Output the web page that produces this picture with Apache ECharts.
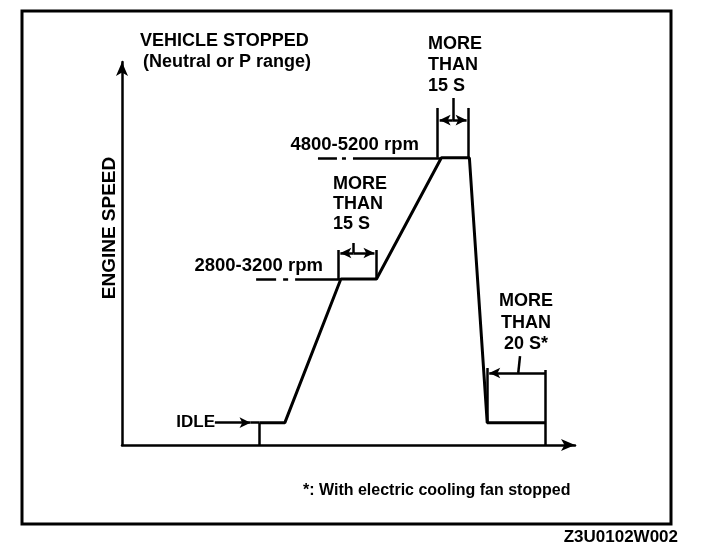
<!DOCTYPE html>
<html>
<head>
<meta charset="utf-8">
<script src="https://cdn.jsdelivr.net/npm/echarts@6/dist/echarts.min.js"></script>
<style>
  html, body { margin: 0; padding: 0; background: #fff; }
  #main { width: 704px; height: 552px; }
</style>
</head>
<body>
<div id="main"></div>
<script>
// schematic engine speed trace: time (s) vs engine speed (rpm)
const timeSec = [54, 64, 86, 100, 125.5, 136.5, 143.5, 166.5];
const speedRpm = [750, 750, 3000, 3000, 4900, 4900, 750, 750];
const idleRpm = 750;
const midRpm = 3000;
const highRpm = 4900;
const baseRpm = 400;

const FONT = '"Liberation Sans", Arial, sans-serif';
const black = '#000';

const chart = echarts.init(document.getElementById('main'));

const seg = (a, b, sa, sb) => [
  { coord: a, symbol: sa || 'none' },
  { coord: b, symbol: sb || 'none' }
];

const tracePts = timeSec.map((t, i) => [t, speedRpm[i]]);

chart.setOption({
  animation: false,
  backgroundColor: '#fff',
  grid: { left: 122, top: 62, width: 453, height: 383 },
  xAxis: {
    type: 'value', min: 0, max: 178,
    axisLine: { show: true, onZero: false, symbol: ['none', 'arrow'], symbolSize: [9, 14],
      lineStyle: { color: black, width: 2.5 } },
    axisTick: { show: false }, axisLabel: { show: false }, splitLine: { show: false }
  },
  yAxis: {
    type: 'value', min: baseRpm, max: 6400,
    axisLine: { show: true, onZero: false, symbol: ['none', 'arrow'], symbolSize: [9, 14],
      lineStyle: { color: black, width: 2.5 } },
    axisTick: { show: false }, axisLabel: { show: false }, splitLine: { show: false }
  },
  series: [
    {
      type: 'line',
      data: tracePts,
      showSymbol: false,
      silent: true,
      lineStyle: { color: black, width: 3 },
      markLine: {
        silent: true,
        animation: false,
        label: { show: false },
        symbolSize: [8, 11],
        lineStyle: { color: black, width: 2.5, type: 'solid' },
        data: [
          // idle arrow and tick
          seg([36.5, idleRpm], [50.5, idleRpm], 'none', 'arrow'),
          seg([50.5, idleRpm], [timeSec[0], idleRpm]),
          seg([timeSec[0], idleRpm], [timeSec[0], baseRpm]),
          // hold at 2800-3200 rpm
          seg([85, midRpm], [85, 3455]),
          seg([timeSec[3], midRpm], [timeSec[3], 3455]),
          seg([91, 3408], [85.8, 3408], 'none', 'arrow'),
          seg([91, 3408], [99.2, 3408], 'none', 'arrow'),
          seg([91, 3408], [91, 3565]),
          // hold at 4800-5200 rpm
          seg([124, highRpm], [124, 5680]),
          seg([timeSec[5] - 0.3, highRpm], [timeSec[5] - 0.3, 5680]),
          seg([130, 5490], [124.8, 5490], 'none', 'arrow'),
          seg([130, 5490], [135.4, 5490], 'none', 'arrow'),
          seg([130, 5490], [130, 5836]),
          // hold at idle (fan stopped)
          seg([timeSec[6], idleRpm], [timeSec[6], 1606]),
          seg([timeSec[7], baseRpm], [timeSec[7], 1575]),
          seg([156, 1528], [144.3, 1528], 'none', 'arrow'),
          seg([156, 1528], [timeSec[7], 1528]),
          seg([155.7, 1528], [156.4, 1794]),
          // dash-dot rpm reference lines
          [
            { coord: [52.7, midRpm], symbol: 'none', lineStyle: { type: [20, 7, 5, 7, 600], width: 2.5 } },
            { coord: [timeSec[2], midRpm], symbol: 'none' }
          ],
          [
            { coord: [77, highRpm], symbol: 'none', lineStyle: { type: [19, 5, 4, 7, 600], width: 2.5 } },
            { coord: [timeSec[4], highRpm], symbol: 'none' }
          ]
        ]
      }
    }
  ],
  graphic: [
    { type: 'rect', shape: { x: 22, y: 11, width: 649, height: 513 },
      style: { fill: 'none', stroke: black, lineWidth: 3 } },
    { type: 'text', x: 140, y: 41, style: { text: 'VEHICLE STOPPED', font: 'bold 18px ' + FONT, fill: black, verticalAlign: 'middle' } },
    { type: 'text', x: 143, y: 62, style: { text: '(Neutral or P range)', font: 'bold 18px ' + FONT, fill: black, verticalAlign: 'middle' } },
    { type: 'text', x: 428, y: 44, style: { text: 'MORE\nTHAN\n15 S', font: 'bold 18px ' + FONT, lineHeight: 20.7, fill: black, verticalAlign: 'top', y: -10 } },
    { type: 'text', x: 333, y: 184, style: { text: 'MORE\nTHAN\n15 S', font: 'bold 18px ' + FONT, lineHeight: 20, fill: black, verticalAlign: 'top', y: -10 } },
    { type: 'text', x: 526, y: 300, style: { text: 'MORE\nTHAN\n20 S*', font: 'bold 18px ' + FONT, lineHeight: 21.7, fill: black, align: 'center', verticalAlign: 'top', y: -10 } },
    { type: 'text', x: 419, y: 145, style: { text: '4800-5200 rpm', font: 'bold 18.5px ' + FONT, fill: black, align: 'right', verticalAlign: 'middle' } },
    { type: 'text', x: 323, y: 266, style: { text: '2800-3200 rpm', font: 'bold 18.5px ' + FONT, fill: black, align: 'right', verticalAlign: 'middle' } },
    { type: 'text', x: 215, y: 422, style: { text: 'IDLE', font: 'bold 17px ' + FONT, fill: black, align: 'right', verticalAlign: 'middle' } },
    { type: 'text', x: 110, y: 228, rotation: Math.PI / 2,
      style: { text: 'ENGINE SPEED', font: 'bold 19px ' + FONT, fill: black, align: 'center', verticalAlign: 'middle' } },
    { type: 'text', x: 303, y: 491, style: { text: '*: With electric cooling fan stopped', font: 'bold 16px ' + FONT, fill: black, verticalAlign: 'middle' } },
    { type: 'text', x: 678, y: 537, style: { text: 'Z3U0102W002', font: 'bold 17px ' + FONT, fill: black, align: 'right', verticalAlign: 'middle' } }
  ]
});
</script>
</body>
</html>
